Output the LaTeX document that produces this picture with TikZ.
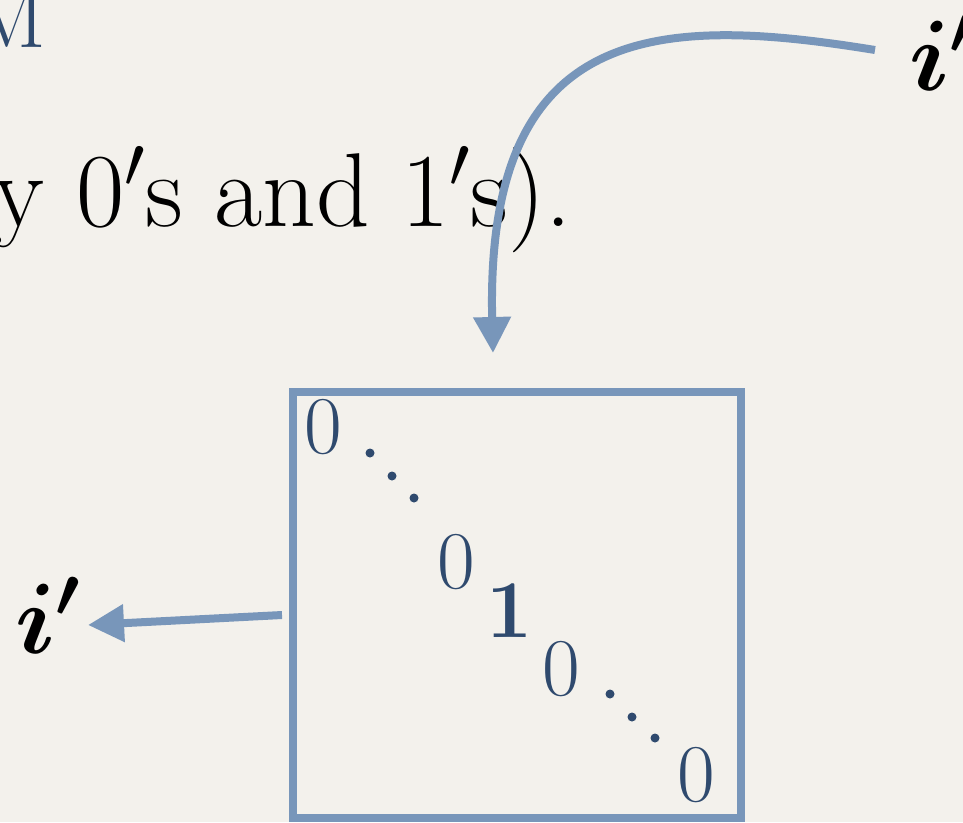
\RequirePackage{fix-cm}
\documentclass[tikz,border=0pt]{standalone}
\usepackage{amsmath, amssymb}
\usepackage{bm}
\usepackage{xcolor}
\usepackage{tikz}
\usetikzlibrary{arrows.meta, positioning}

\definecolor{paper}{HTML}{F3F1EC}
\definecolor{steel}{HTML}{7896BA}
\definecolor{ink}{HTML}{2F4A6E}

\begin{document}
\begin{tikzpicture}[x=1pt, y=-1pt,
    entry/.style={inner sep=0pt, anchor=base, text=ink, font=\fontsize{82}{90}\selectfont},
    link/.style={line width=8pt, steel, -{Triangle[length=36pt, width=36pt]}},
    idx/.style={inner sep=0pt, anchor=base west, font=\fontsize{100}{110}\selectfont}]
\useasboundingbox (0,0) rectangle (963,822);
\fill[paper] (0,0) rectangle (963,822);
\clip (0,0) rectangle (963,822);
% slide text behind the sketch
\node[inner sep=0pt, anchor=base east, text=ink, font=\fontsize{88}{96}\selectfont] (title) at (47,47) {M};
\node[inner sep=0pt, anchor=base east, font=\fontsize{105}{115}\selectfont] (line) at (572,226) {y \(0'\)s and \(1'\)s).};
% the matrix
\node[draw=steel, line width=8pt, minimum width=448pt, minimum height=426pt, inner sep=0pt] (box) at (517,605) {};
\node[entry] (e1) at (323,453) {0};
\node[entry] (e2) at (456,588) {0};
\node[entry] (e3) at (510,637) {\bfseries 1};
\node[entry] (e4) at (561,695) {0};
\node[entry] (e5) at (696,801) {0};
\foreach \x/\y in {370/453, 392/476, 414/498, 610/694, 632/717, 655/738}
    \fill[ink] (\x,\y) circle (4.5);
% the indices
\node[idx] (itop) at (909,90) {$\bm{i'}$};
\node[idx] (ilow) at (15,653) {$\bm{i'}$};
\coordinate (tailT) at (875,50);
\coordinate (headT) at (493,353);
\coordinate (tailL) at (282,615);
\coordinate (headL) at (88,625);
\draw[link] (tailT) .. controls (660,15) and (485,20) .. (headT);
\draw[link] (tailL) -- (headL);
\end{tikzpicture}
\end{document}
